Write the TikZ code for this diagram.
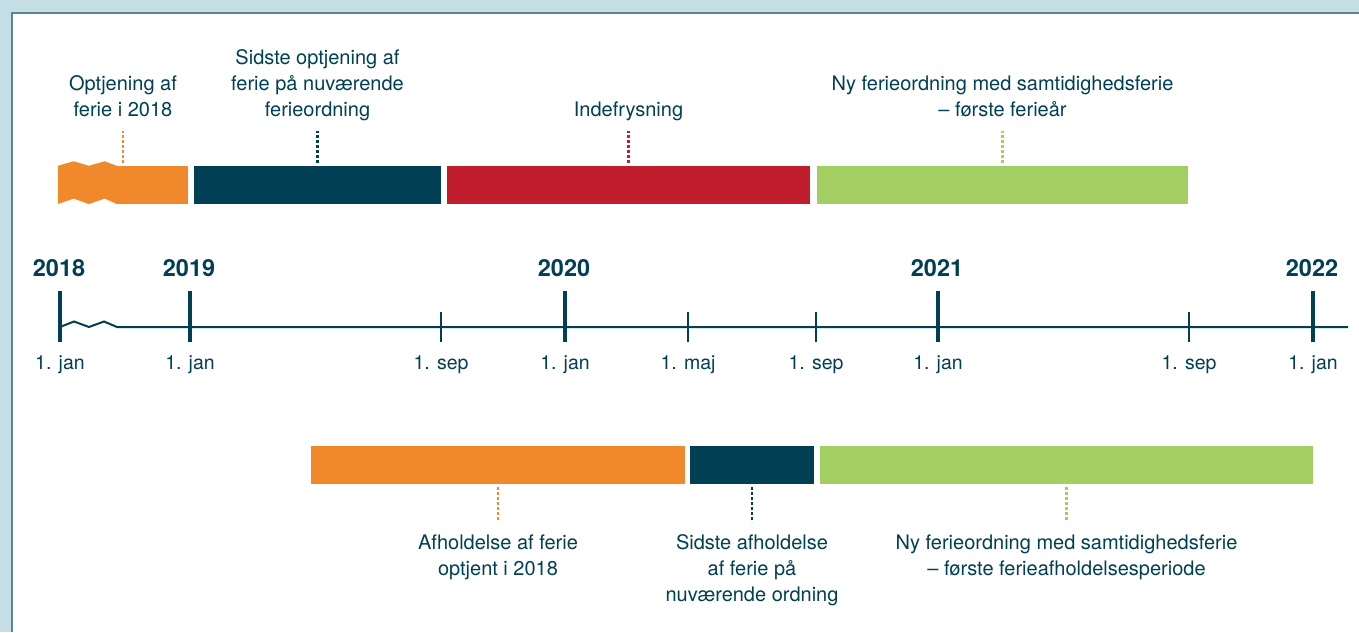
\documentclass[tikz,border=0pt]{standalone}
\usepackage{fontspec}
\setmainfont{TeX Gyre Heros}
\usetikzlibrary{positioning}
\definecolor{navy}{RGB}{0,63,84}
\definecolor{ferieOrange}{RGB}{240,136,44}
\definecolor{ferieRed}{RGB}{192,30,45}
\definecolor{ferieGreen}{RGB}{163,206,98}
\definecolor{panelBlue}{RGB}{197,221,229}
\definecolor{panelLine}{RGB}{90,134,148}
\tikzset{
  bar/.style={inner sep=0pt, minimum height=38pt},
  tag/.style={line width=2.8pt, dash pattern=on 2.5pt off 2.5pt, shorten <=3pt},
  caption/.style={align=center, inner sep=0pt, text=navy,
    font=\fontsize{20}{26.3}\selectfont,
    execute at begin node=\strut, execute at end node=\strut},
  year/.style={anchor=base, inner sep=0pt, text=navy, font=\fontsize{23.5}{27}\selectfont\bfseries},
  date/.style={anchor=base, inner sep=0pt, text=navy, font=\fontsize{19.5}{24}\selectfont},
  axis/.style={navy, line width=2pt},
  majorTick/.style={navy, line width=3.5pt},
  minorTick/.style={navy, line width=2pt}
}
\begin{document}
\begin{tikzpicture}[x=1pt, y=-1pt]
    \useasboundingbox (0,0) rectangle (1359,632);
    \fill[panelBlue] (0,0) rectangle (1359,632);
    \fill[white] (12,13) rectangle (1359,632);
    \draw[panelLine, line width=1.5pt] (11.75,632) -- (11.75,12.75) -- (1359,12.75);
    % optjening
    \node [bar, fill=ferieOrange, minimum width=130pt] (earnOld) at (123,185) {};
    \node [bar, fill=navy, minimum width=247pt] (earnLast) at (317.5,185) {};
    \node [bar, fill=ferieRed, minimum width=363pt] (freeze) at (628.5,185) {};
    \node [bar, fill=ferieGreen, minimum width=371pt] (newYear) at (1002.5,185) {};
    \fill[ferieOrange] (earnOld.north west) -- ++(16,-4.5) -- ++(15,4.5) -- ++(16,-4.5) -- ++(12,4.5) -- cycle;
    \fill[white] (earnOld.south west) -- ++(16,-5.5) -- ++(15,5.5) -- ++(16,-5.5) -- ++(12,5.5) -- cycle;
    \coordinate [above=35pt of earnOld] (earnOldTip);
    \coordinate [above=35pt of earnLast] (earnLastTip);
    \coordinate [above=35pt of freeze] (freezeTip);
    \coordinate [above=35pt of newYear] (newYearTip);
    \node [caption, above=6pt of earnOldTip] (earnOldText) {Optjening af\\ferie i 2018};
    \node [caption, above=6pt of earnLastTip] (earnLastText) {Sidste optjening af\\ferie på nuværende\\ferieordning};
    \node [caption, above=6pt of freezeTip] (freezeText) {Indefrysning};
    \node [caption, above=6pt of newYearTip] (newYearText) {Ny ferieordning med samtidighedsferie\\– første ferieår};
    \draw [tag, ferieOrange] (earnOld) -- (earnOldTip);
    \draw [tag, navy] (earnLast) -- (earnLastTip);
    \draw [tag, ferieRed] (freeze) -- (freezeTip);
    \draw [tag, ferieGreen] (newYear) -- (newYearTip);
    % tidslinje
    \coordinate (axisStart) at (60,327);
    \coordinate (axisEnd) at (1348,327);
    \draw [axis] (axisStart) -- ++(14,-5.5) -- ++(15,5.5) -- ++(15,-5.5) -- ++(13,5.5) -- (axisEnd);
    \foreach \x/\yr in {60/2018, 190/2019, 565/2020, 938/2021, 1313/2022} {
      \draw [majorTick] (\x,291) -- (\x,342);
      \node [year] (year\yr) at (\x-1,276) {\yr};
      \node [date] (jan\yr) at (\x,369) {1. jan};
    }
    \foreach \x/\d/\n in {441/1. sep/sepA, 688/1. maj/maj, 816/1. sep/sepB, 1189/1. sep/sepC} {
      \draw [minorTick] (\x,312) -- (\x,342);
      \node [date] (\n) at (\x,369) {\d};
    }
    % afholdelse
    \node [bar, fill=ferieOrange, minimum width=374pt] (spendOld) at (498,465) {};
    \node [bar, fill=navy, minimum width=124pt] (spendLast) at (752,465) {};
    \node [bar, fill=ferieGreen, minimum width=493pt] (spendNew) at (1066.5,465) {};
    \coordinate [below=38pt of spendOld] (spendOldTip);
    \coordinate [below=38pt of spendLast] (spendLastTip);
    \coordinate [below=38pt of spendNew] (spendNewTip);
    \node [caption, below=12pt of spendOldTip] (spendOldText) {Afholdelse af ferie\\optjent i 2018};
    \node [caption, below=12pt of spendLastTip] (spendLastText) {Sidste afholdelse\\af ferie på\\nuværende ordning};
    \node [caption, below=12pt of spendNewTip] (spendNewText) {Ny ferieordning med samtidighedsferie\\– første ferieafholdelsesperiode};
    \draw [tag, ferieOrange] (spendOld) -- (spendOldTip);
    \draw [tag, navy] (spendLast) -- (spendLastTip);
    \draw [tag, ferieGreen] (spendNew) -- (spendNewTip);
\end{tikzpicture}
\end{document}
